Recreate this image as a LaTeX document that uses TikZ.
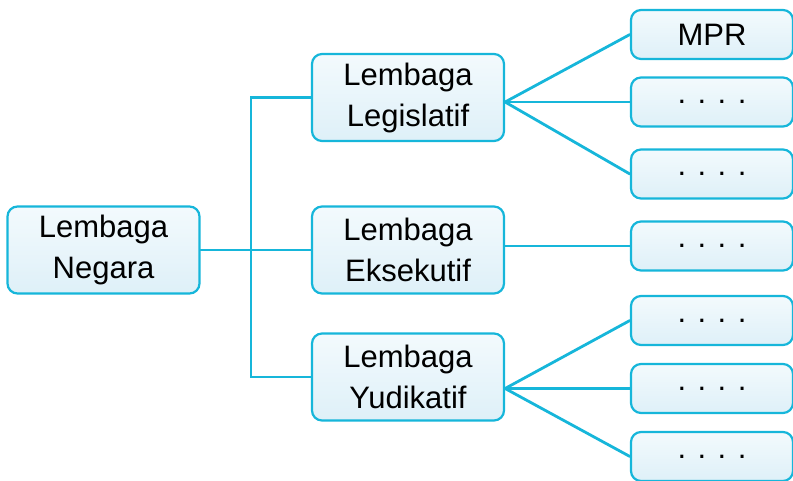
\documentclass[tikz,border=0pt]{standalone}
\usepackage{fontspec}
\setmainfont{Liberation Sans}
\usetikzlibrary{positioning}
\definecolor{lembcyan}{RGB}{22,182,218}
\definecolor{lembtop}{RGB}{243,250,253}
\definecolor{lembbottom}{RGB}{222,240,248}
\tikzstyle{line} = [draw, lembcyan, line width=2.8pt, line cap=round]
\tikzstyle{lemb} = [rectangle, draw=lembcyan, line width=2.2pt, rounded corners=10pt, top color=lembtop, bottom color=lembbottom, inner sep=0pt, font=\fontsize{31}{41}\selectfont]
\tikzstyle{bigbox} = [lemb, minimum width=192pt, minimum height=87pt, align=center]
\tikzstyle{smallbox} = [lemb, minimum width=162pt, minimum height=49pt, node distance=304pt]
\tikzstyle{dotbox} = [smallbox, text height=3pt, text depth=0pt]

\begin{document}
\begin{tikzpicture}
	\useasboundingbox (0pt,0pt) rectangle (793pt,-480pt);
	\node [bigbox] (negara) at (103.5pt,-250pt) {Lembaga\\Negara};
	\node [bigbox, right of=negara, node distance=304.5pt] (eksekutif) {Lembaga\\Eksekutif};
	\node [bigbox, above of=eksekutif, node distance=152.5pt] (legislatif) {Lembaga\\Legislatif};
	\node [bigbox, below of=eksekutif, node distance=127pt] (yudikatif) {Lembaga\\Yudikatif};
	
	\node [smallbox, right of=legislatif, yshift=63pt] (mpr) {MPR};
	\node [dotbox, right of=legislatif, yshift=-4.5pt] (leg2) {. . . .};
	\node [dotbox, right of=legislatif, yshift=-76.5pt] (leg3) {. . . .};
	\node [dotbox, right of=eksekutif, yshift=4pt] (eks1) {. . . .};
	\node [dotbox, right of=yudikatif, yshift=56.5pt] (yud1) {. . . .};
	\node [dotbox, right of=yudikatif, yshift=-11.5pt] (yud2) {. . . .};
	\node [dotbox, right of=yudikatif, yshift=-79.5pt] (yud3) {. . . .};
	
	\coordinate [xshift=-60pt] (trunk) at (legislatif.west);
	\path [line] (negara.east) to (eksekutif.west);
	\path [line] (legislatif.west) -- (trunk) |- (yudikatif.west);
	
	\coordinate (legfan) at (legislatif.east |- leg2.west);
	\coordinate (yudfan) at (yudikatif.east |- yud2.west);
	\foreach \t in {mpr, leg2, leg3}
		\path [line] (legfan) to (\t.west);
	\foreach \t in {yud1, yud2, yud3}
		\path [line] (yudfan) to (\t.west);
	\path [line] (eksekutif.east |- eks1.west) to (eks1.west);
\end{tikzpicture}
\end{document}
